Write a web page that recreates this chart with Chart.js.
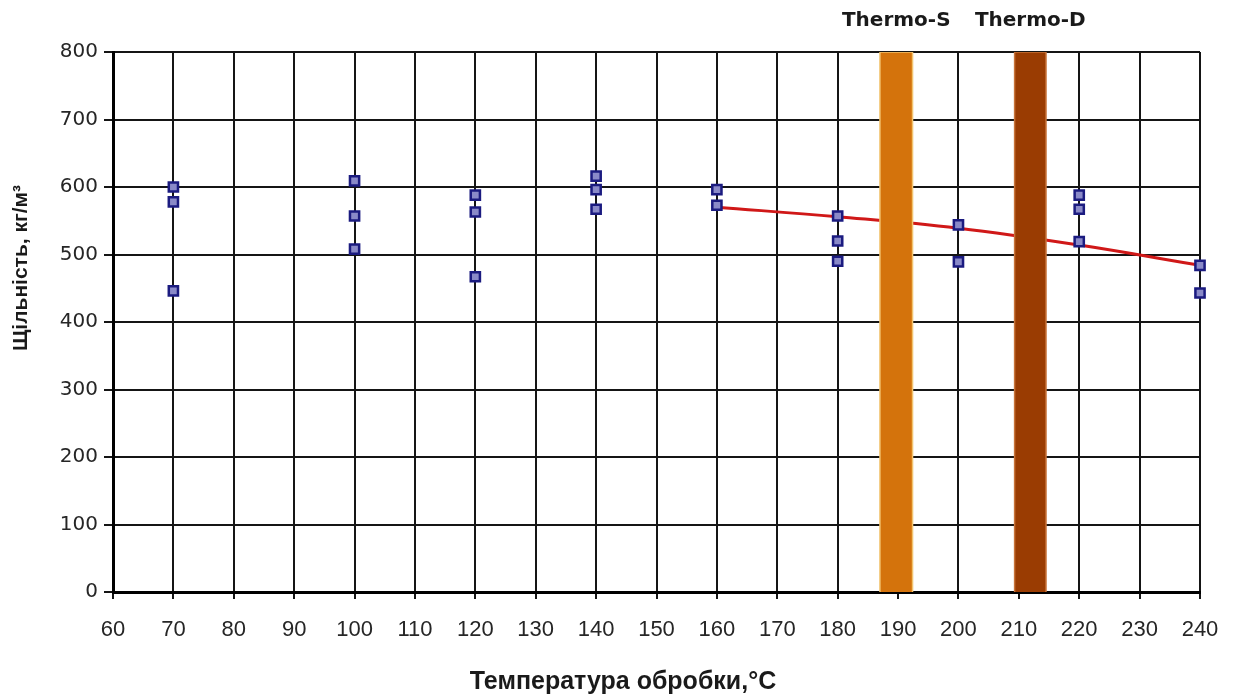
<!DOCTYPE html>
<html>
<head>
<meta charset="utf-8">
<script src="https://cdn.jsdelivr.net/npm/chart.js@4.4.1/dist/chart.umd.min.js"></script>
<style>
  html, body { margin: 0; padding: 0; background: #fff; }
  #wrap { width: 1233px; height: 700px; }
</style>
</head>
<body>
<div id="wrap"><canvas id="chart"></canvas></div>
<script>
// Measured samples: temperature (°C) and density (kg/m3)
const sampleTemps = [70, 70, 70, 100, 100, 100, 120, 120, 120, 140, 140, 140, 160, 160,
  180, 180, 180, 200, 200, 220, 220, 220, 240, 240];
const sampleDensity = [600, 578, 446, 609, 557, 508, 588, 563, 467, 616, 596, 567, 596, 573,
  557, 520, 490, 544, 489, 588, 567, 519, 484, 443];

// Trend line
const trendTemps = [160, 180, 200, 220, 240];
const trendDensity = [570, 556, 539, 514, 484];

// Thermo-S / Thermo-D process bands (°C range)
const bandNames = ['Thermo-S', 'Thermo-D'];
const bandFrom = [187.0, 209.3];
const bandTo = [192.4, 214.5];
const bandColors = ['#d4730c', '#9a3c02'];
const bandEdges = ['#f2c36e', '#c8743a'];

const xTicks = { min: 60, max: 240, step: 10 };
const yTicks = { min: 0, max: 800, step: 100 };

const xTitle = 'Температура обробки,°С';
const yTitle = 'Щільність, кг/м³';

const bandDatasets = bandNames.map((name, i) => ({
  type: 'line',
  label: name,
  data: [
    { x: bandFrom[i], y: yTicks.min },
    { x: bandFrom[i], y: yTicks.max },
    { x: bandTo[i], y: yTicks.max },
    { x: bandTo[i], y: yTicks.min }
  ],
  borderColor: bandEdges[i],
  borderWidth: 1.5,
  backgroundColor: bandColors[i],
  fill: 'origin',
  pointRadius: 0,
  tension: 0,
  order: 0
}));

// Labels above bands and axis titles
const labelsPlugin = {
  id: 'labels',
  afterDraw(chart) {
    const { ctx, scales: { x } } = chart;
    ctx.save();
    ctx.fillStyle = '#1a1a1a';
    ctx.textAlign = 'center';
    ctx.textBaseline = 'middle';
    ctx.font = 'bold 20px "DejaVu Sans", sans-serif';
    bandNames.forEach((name, i) => {
      const cx = x.getPixelForValue((bandFrom[i] + bandTo[i]) / 2);
      ctx.fillText(name, cx, 21);
    });

    ctx.font = 'bold 25px "Liberation Sans", sans-serif';
    ctx.fillText(xTitle, 623, 682);

    ctx.translate(21, 268);
    ctx.rotate(-Math.PI / 2);
    ctx.font = 'bold 21px "Liberation Sans", sans-serif';
    ctx.fillText(yTitle, 0, 0);
    ctx.restore();
  }
};

new Chart(document.getElementById('chart'), {
  data: {
    datasets: [
      ...bandDatasets,
      {
        type: 'scatter',
        label: 'samples',
        data: sampleTemps.map((t, i) => ({ x: t, y: sampleDensity[i] })),
        pointStyle: 'rect',
        pointRadius: 6.5,
        pointBorderWidth: 2.5,
        pointBorderColor: '#1b1b80',
        pointBackgroundColor: '#8a8ac8',
        clip: false,
        order: 1
      },
      {
        type: 'line',
        label: 'trend',
        data: trendTemps.map((t, i) => ({ x: t, y: trendDensity[i] })),
        borderColor: '#d01818',
        borderWidth: 3,
        pointRadius: 0,
        tension: 0.4,
        fill: false,
        clip: false,
        order: 2
      }
    ]
  },
  options: {
    responsive: true,
    maintainAspectRatio: false,
    animation: false,
    layout: { padding: { top: 52, right: 33, left: 0, bottom: 0 } },
    plugins: {
      legend: { display: false },
      tooltip: { enabled: false },
      filler: { drawTime: 'beforeDatasetDraw' }
    },
    scales: {
      x: {
        type: 'linear',
        min: xTicks.min,
        max: xTicks.max,
        afterFit: s => { s.height = 108; s.paddingLeft = 0; s.paddingRight = 0; },
        ticks: {
          stepSize: xTicks.step,
          color: '#262626',
          padding: 18,
          font: { family: '"Liberation Sans", Arial, sans-serif', size: 22 }
        },
        grid: { color: '#151515', lineWidth: 2, tickLength: 7 },
        border: { color: '#000', width: 3 }
      },
      y: {
        min: yTicks.min,
        max: yTicks.max,
        afterFit: s => { s.width = 113; s.paddingTop = 0; s.paddingBottom = 0; },
        ticks: {
          stepSize: yTicks.step,
          color: '#262626',
          padding: 6,
          font: { family: '"DejaVu Sans", sans-serif', size: 20 }
        },
        grid: { color: '#151515', lineWidth: 2, tickLength: 9 },
        border: { color: '#000', width: 3 }
      }
    }
  },
  plugins: [labelsPlugin]
});
</script>
</body>
</html>
